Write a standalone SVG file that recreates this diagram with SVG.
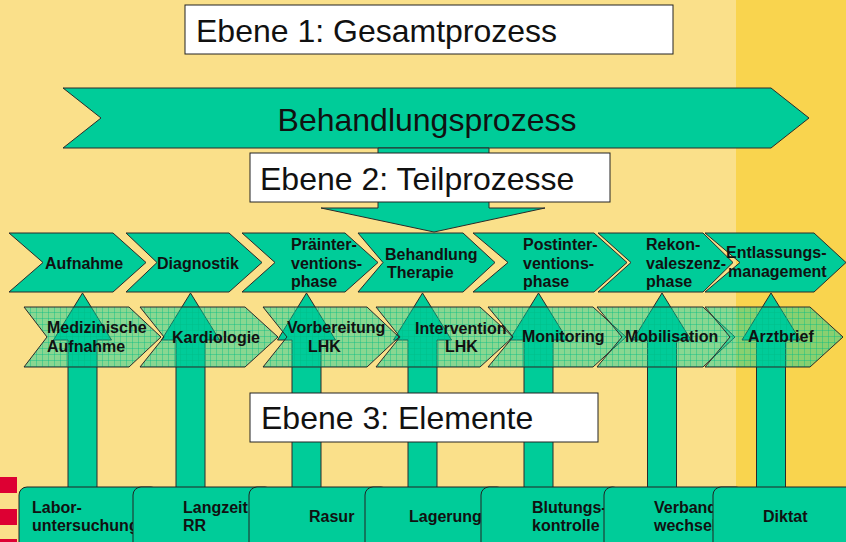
<svg xmlns="http://www.w3.org/2000/svg" width="846" height="542" viewBox="0 0 846 542">
<style>
.teal{fill:#00CC99;stroke:#2a2a2a;stroke-width:1}
.hatch{fill:url(#grid);stroke:#2a2a2a;stroke-width:1}
.box{fill:#ffffff;stroke:#222;stroke-width:1}
.el{fill:#00CC99;stroke:#222;stroke-width:1}
.lbl{font-family:"Liberation Sans",Arial,sans-serif;font-weight:bold;font-size:16px;fill:#111}
.big{font-family:"Liberation Sans",Arial,sans-serif;font-size:32px;fill:#111}
</style>
<defs>
<pattern id="grid" width="6" height="6" patternUnits="userSpaceOnUse">
<rect width="6" height="6" fill="#00CC99" fill-opacity="0.45"/>
<path d="M0 0.5H6M0.5 0V6" stroke="#00BB88" stroke-opacity="0.4" stroke-width="1"/>
</pattern>
</defs>
<rect x="0" y="0" width="846" height="542" fill="#FAE08A"/>
<rect x="736" y="0" width="110" height="542" fill="#F9D44E"/>
<g id="marks" fill="#DD0033">
<rect x="0" y="477" width="17" height="16"/>
<rect x="0" y="509" width="17" height="16"/>
<rect x="0" y="539" width="17" height="5"/>
</g>
<g id="gesamtprozess">
<polygon class="teal" points="63,88 771,88 809,118 771,148 63,148 101,118"/>
<text class="big" x="427" y="131" text-anchor="middle">Behandlungsprozess</text>
</g>
<g id="connectors">
<polygon class="teal" points="378,148 489,148 489,208 545,208 434,232 321,208 378,208"/>
</g>
<g id="ebene1">
<rect class="box" x="185" y="5" width="488" height="49"/>
<text class="big" x="196" y="42">Ebene 1: Gesamtprozess</text>
</g>
<g id="ebene2">
<rect class="box" x="250" y="153" width="360" height="49"/>
<text class="big" x="260" y="190">Ebene 2: Teilprozesse</text>
</g>
<g id="aufnahme">
<polygon class="teal" points="9,233 113,233 146,262.5 113,292 9,292 43,262.5"/>
<text class="lbl" x="45" y="269">Aufnahme</text>
</g>
<g id="diagnostik">
<polygon class="teal" points="126,233 229,233 262,262.5 229,292 126,292 157,262.5"/>
<text class="lbl" x="157" y="269">Diagnostik</text>
</g>
<g id="praeinterventionsphase">
<polygon class="teal" points="242,233 345,233 378,262.5 345,292 242,292 275,262.5"/>
<text class="lbl" x="291" y="250">Präinter-</text>
<text class="lbl" x="291" y="269">ventions-</text>
<text class="lbl" x="291" y="287">phase</text>
</g>
<g id="behandlung">
<polygon class="teal" points="358,233 463,233 495,262.5 463,292 358,292 383,262.5"/>
<text class="lbl" x="385" y="260">Behandlung</text>
<text class="lbl" x="387" y="278">Therapie</text>
</g>
<g id="postinterventionsphase">
<polygon class="teal" points="473,233 594,233 627,262.5 594,292 473,292 508,262.5"/>
<text class="lbl" x="523" y="250">Postinter-</text>
<text class="lbl" x="523" y="269">ventions-</text>
<text class="lbl" x="523" y="287">phase</text>
</g>
<g id="rekonvaleszenzphase">
<polygon class="teal" points="598,233 703,233 733,262.5 703,292 598,292 631,262.5"/>
<text class="lbl" x="646" y="250">Rekon-</text>
<text class="lbl" x="646" y="269">valeszenz-</text>
<text class="lbl" x="646" y="287">phase</text>
</g>
<g id="entlassungsmanagement">
<polygon class="teal" points="705,233 814,233 846,262.5 814,292 705,292 740,262.5"/>
<text class="lbl" x="726" y="258">Entlassungs-</text>
<text class="lbl" x="728" y="277">management</text>
</g>
<g id="connectors-up">
<polygon class="teal" points="82.5,293 111.5,340 97,340 97,490 68,490 68,340 53.5,340"/>
<polygon class="teal" points="190.5,293 219.5,340 205,340 205,490 176,490 176,340 161.5,340"/>
<polygon class="teal" points="306.5,293 335.5,340 321,340 321,490 292,490 292,340 277.5,340"/>
<polygon class="teal" points="422.5,293 451.5,340 437,340 437,490 408,490 408,340 393.5,340"/>
<polygon class="teal" points="538.5,293 567.5,340 553,340 553,490 524,490 524,340 509.5,340"/>
<polygon class="teal" points="662,293 691,340 676.5,340 676.5,490 647.5,490 647.5,340 633,340"/>
<polygon class="teal" points="771,293 800,340 785.5,340 785.5,490 756.5,490 756.5,340 742,340"/>
</g>
<g id="med-aufnahme">
<polygon class="hatch" points="24,307 129,307 161,337 129,367 24,367 47,337"/>
<text class="lbl" x="47" y="333">Medizinische</text>
<text class="lbl" x="47" y="352">Aufnahme</text>
</g>
<g id="kardiologie">
<polygon class="hatch" points="140,307 245,307 278,337 245,367 140,367 164,337"/>
<text class="lbl" x="172" y="343">Kardiologie</text>
</g>
<g id="vorbereitung">
<polygon class="hatch" points="263,307 367,307 399,337 367,367 263,367 287,337"/>
<text class="lbl" x="287" y="333">Vorbereitung</text>
<text class="lbl" x="308" y="352">LHK</text>
</g>
<g id="intervention">
<polygon class="hatch" points="376,307 480,307 513,337 480,367 376,367 400,337"/>
<text class="lbl" x="415" y="334">Intervention</text>
<text class="lbl" x="445" y="352">LHK</text>
</g>
<g id="monitoring">
<polygon class="hatch" points="488,307 593,307 626,337 593,367 488,367 513,337"/>
<text class="lbl" x="522" y="342">Monitoring</text>
</g>
<g id="mobilisation">
<polygon class="hatch" points="597,307 703,307 735,337 703,367 597,367 622,337"/>
<text class="lbl" x="625" y="342">Mobilisation</text>
</g>
<g id="arztbrief">
<polygon class="hatch" points="705,307 810,307 843,337 810,367 705,367 730,337"/>
<text class="lbl" x="748" y="342">Arztbrief</text>
</g>
<g id="ebene3">
<rect class="box" x="250" y="393" width="348" height="49"/>
<text class="big" x="261" y="429">Ebene 3: Elemente</text>
</g>
<g id="laboruntersuchung">
<rect class="el" x="19" y="487" width="140" height="70" rx="8"/>
<text class="lbl" x="32" y="513">Labor-</text>
<text class="lbl" x="32" y="531">untersuchung</text>
</g>
<g id="langzeit-rr">
<rect class="el" x="133" y="487" width="140" height="70" rx="8"/>
<text class="lbl" x="183" y="513">Langzeit</text>
<text class="lbl" x="183" y="531">RR</text>
</g>
<g id="rasur">
<rect class="el" x="249" y="487" width="140" height="70" rx="8"/>
<text class="lbl" x="309" y="522">Rasur</text>
</g>
<g id="lagerung">
<rect class="el" x="365" y="487" width="140" height="70" rx="8"/>
<text class="lbl" x="409" y="522">Lagerung</text>
</g>
<g id="blutungskontrolle">
<rect class="el" x="481" y="487" width="140" height="70" rx="8"/>
<text class="lbl" x="532" y="513">Blutungs-</text>
<text class="lbl" x="532" y="531">kontrolle</text>
</g>
<g id="verbandwechsel">
<rect class="el" x="604" y="487" width="140" height="70" rx="8"/>
<text class="lbl" x="654" y="513">Verband</text>
<text class="lbl" x="654" y="531">wechsel</text>
</g>
<g id="diktat">
<rect class="el" x="713" y="487" width="145" height="70" rx="8"/>
<text class="lbl" x="763" y="522">Diktat</text>
</g>
</svg>
